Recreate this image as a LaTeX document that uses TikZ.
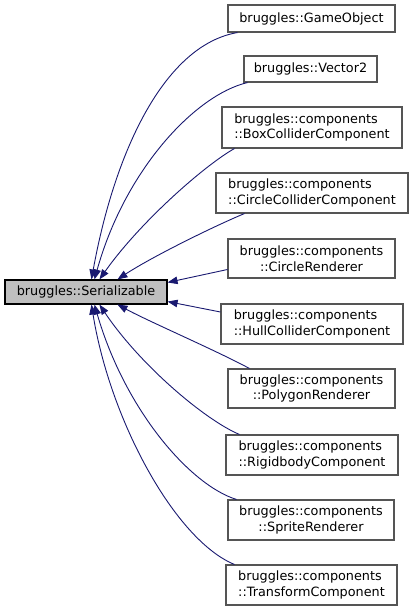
\documentclass[tikz,border=0pt]{standalone}
\usepackage{fontspec}
\setmainfont{DejaVu Sans}
\usetikzlibrary{arrows.meta}
\definecolor{edgeblue}{HTML}{191970}
\definecolor{boxgray}{HTML}{555555}
\definecolor{basefill}{HTML}{BFBFBF}

\begin{document}
\begin{tikzpicture}[x=1pt,y=-1pt,
  cls/.style={draw=boxgray,line width=1.1pt,fill=white,inner sep=0pt,font=\fontsize{12.8}{15.5}\selectfont},
  base/.style={cls,draw=black,fill=basefill},
  inh/.style={edgeblue,line width=0.9pt,-{Triangle[length=10pt,width=7.5pt]}}]
  \useasboundingbox (0,0) rectangle (413,611);
  \node[base,minimum width=162pt,minimum height=24pt] (ser) at (86,292) {bruggles::Serializable};
  \node[cls,minimum width=167pt,minimum height=27pt] (go) at (311.5,18.5) {bruggles::GameObject};
  \node[cls,minimum width=133pt,minimum height=26pt] (vec) at (310.5,69) {bruggles::Vector2};
  \node[cls,align=left,minimum width=180pt,minimum height=41pt] (box) at (312,127.5) {bruggles::components\\::BoxColliderComponent};
  \node[cls,align=left,minimum width=192pt,minimum height=40pt] (ccol) at (312,193) {bruggles::components\\::CircleColliderComponent};
  \node[cls,align=center,minimum width=167pt,minimum height=39pt] (cren) at (311.5,258.5) {bruggles::components\\::CircleRenderer};
  \node[cls,align=left,minimum width=182pt,minimum height=40pt] (hull) at (312,324) {bruggles::components\\::HullColliderComponent};
  \node[cls,align=center,minimum width=167pt,minimum height=39pt] (poly) at (311.5,388.5) {bruggles::components\\::PolygonRenderer};
  \node[cls,align=left,minimum width=172pt,minimum height=40pt] (rigid) at (312,455) {bruggles::components\\::RigidbodyComponent};
  \node[cls,align=center,minimum width=166pt,minimum height=40pt] (sprite) at (311,520) {bruggles::components\\::SpriteRenderer};
  \node[cls,align=left,minimum width=171pt,minimum height=40pt] (trans) at (311.5,585) {bruggles::components\\::TransformComponent};
  \draw[inh] ([xshift=10pt]go.south west) .. controls (165,45) and (115,150) .. ([xshift=87pt]ser.north west);
  \draw[inh] ([xshift=4pt]vec.south west) .. controls (195,95) and (125,170) .. ([xshift=90pt]ser.north west);
  \draw[inh] ([xshift=13pt]box.south west) .. controls (205,165) and (140,222) .. ([xshift=95pt]ser.north west);
  \draw[inh] ([xshift=29pt]ccol.south west) .. controls (210,228) and (150,258) .. ([xshift=113pt]ser.north west);
  \draw[inh] ([yshift=-11pt]cren.west) -- ([yshift=-3pt]ser.north east);
  \draw[inh] ([yshift=12pt]hull.west) -- ([yshift=3pt]ser.south east);
  \draw[inh] ([xshift=22pt]poly.north west) .. controls (215,350) and (150,322) .. ([xshift=113pt]ser.south west);
  \draw[inh] ([xshift=14pt]rigid.north west) .. controls (205,420) and (140,365) .. ([xshift=95pt]ser.south west);
  \draw[inh] ([xshift=9pt]sprite.north west) .. controls (190,485) and (125,410) .. ([xshift=90pt]ser.south west);
  \draw[inh] ([xshift=9pt]trans.north west) .. controls (175,540) and (110,420) .. ([xshift=87pt]ser.south west);
\end{tikzpicture}
\end{document}
